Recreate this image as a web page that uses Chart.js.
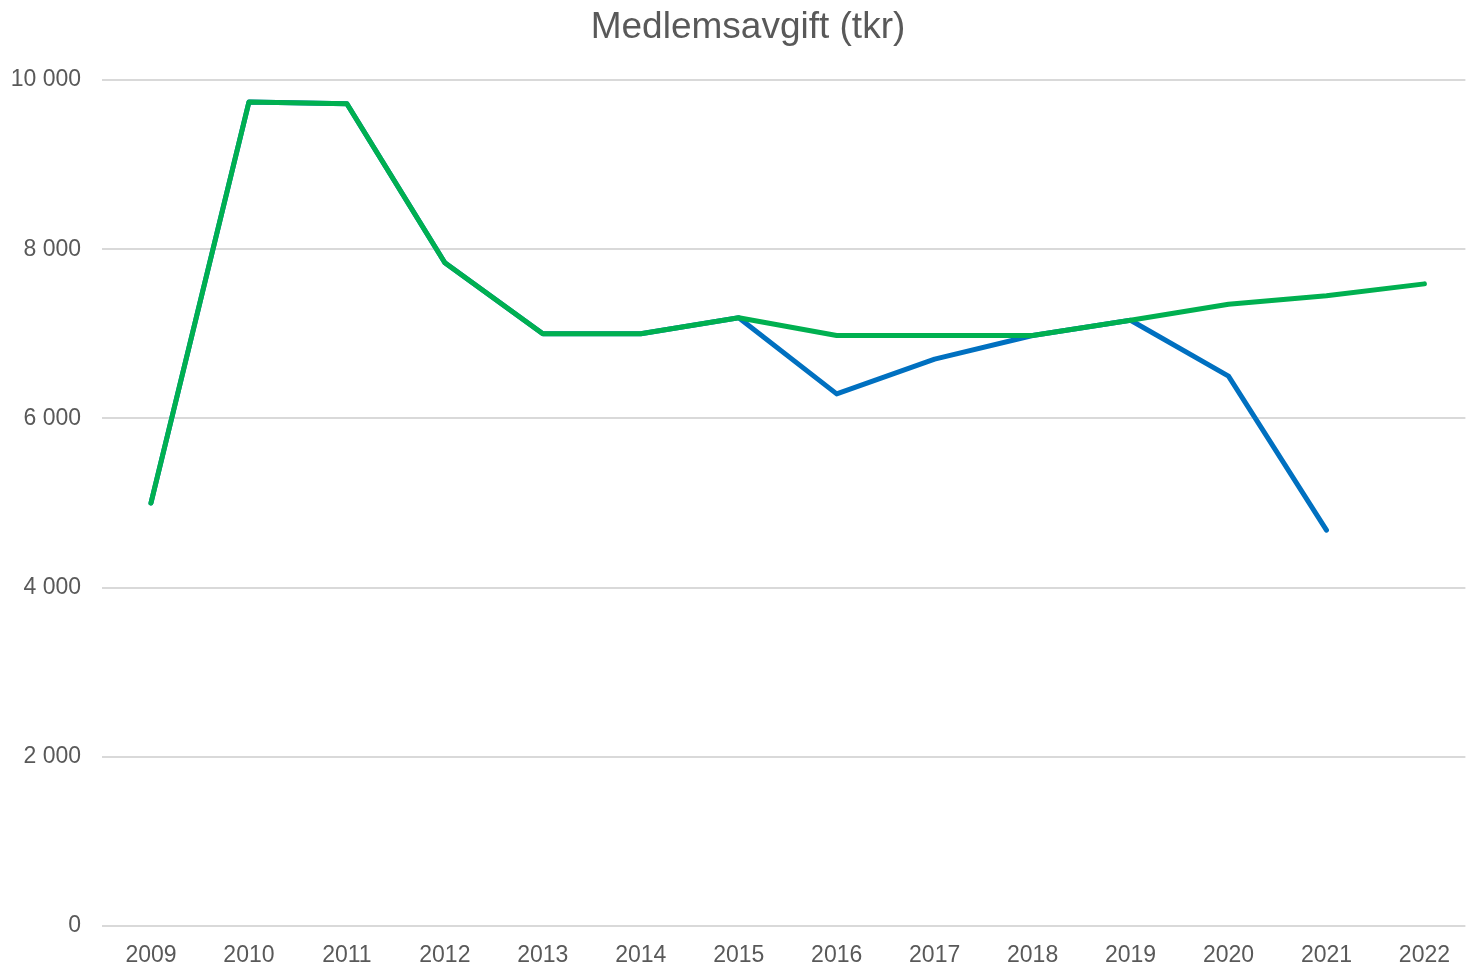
<!DOCTYPE html>
<html>
<head>
<meta charset="utf-8">
<script src="https://cdn.jsdelivr.net/npm/chart.js@4/dist/chart.umd.min.js"></script>
<style>
  html, body { margin: 0; padding: 0; background: #ffffff; }
  #wrap { width: 1466px; height: 966px; position: relative; }
</style>
</head>
<body>
<div id="wrap"><canvas id="c" width="1466" height="966"></canvas></div>
<script>
const years = [2009, 2010, 2011, 2012, 2013, 2014, 2015, 2016, 2017, 2018, 2019, 2020, 2021, 2022];
const seriesGreen = [5000, 9740, 9720, 7840, 7000, 7000, 7190, 6980, 6980, 6980, 7160, 7350, 7450, 7590];
const seriesBlue  = [5000, 9740, 9720, 7840, 7000, 7000, 7190, 6290, 6700, 6980, 7160, 6500, 4680, null];
const yTicks = [0, 2000, 4000, 6000, 8000, 10000];
const titleText = 'Medlemsavgift (tkr)';

const toPoints = arr => years.map((yr, i) => ({ x: yr, y: arr[i] }));
const fmt = v => String(v).replace(/\B(?=(\d{3})+(?!\d))/g, ' ');

const titleShift = {
  id: 'titleShift',
  afterLayout(chart) {
    if (chart.titleBlock) { chart.titleBlock.left = 30; chart.titleBlock.right = 1466; }
  }
};

new Chart(document.getElementById('c'), {
  type: 'line',
  plugins: [titleShift],
  data: {
    datasets: [
      {
        label: 'Grön',
        data: toPoints(seriesGreen),
        borderColor: '#00B050',
        backgroundColor: '#00B050',
        borderWidth: 5,
        pointRadius: 0,
        borderCapStyle: 'round',
        borderJoinStyle: 'round',
        tension: 0,
        spanGaps: false
      },
      {
        label: 'Blå',
        data: toPoints(seriesBlue),
        borderColor: '#0070C0',
        backgroundColor: '#0070C0',
        borderWidth: 5,
        pointRadius: 0,
        borderCapStyle: 'round',
        borderJoinStyle: 'round',
        tension: 0,
        spanGaps: false
      }
    ]
  },
  options: {
    responsive: false,
    animation: false,
    layout: { padding: { left: 0, right: 0, top: 0, bottom: 0 } },
    plugins: {
      legend: { display: false },
      tooltip: { enabled: false },
      title: {
        display: true,
        text: titleText,
        color: '#595959',
        font: { family: '"Liberation Sans", Arial, sans-serif', size: 37, weight: 'normal' },
        padding: { top: 6, bottom: 29.6 }
      }
    },
    scales: {
      x: {
        type: 'linear',
        min: 2008.5,
        max: 2008.5 + 1364 / 98,
        grid: { display: false, drawTicks: false },
        border: { display: false },
        afterBuildTicks: s => { s.ticks = years.map(v => ({ value: v })); },
        afterFit: s => { s.height = 40; },
        ticks: {
          autoSkip: false,
          maxRotation: 0,
          padding: 16,
          color: '#595959',
          font: { family: '"Liberation Sans", Arial, sans-serif', size: 23 },
          callback: v => String(v)
        }
      },
      y: {
        min: 0,
        max: 10000,
        grid: { color: '#d9d9d9', lineWidth: 2, drawTicks: false },
        border: { display: false },
        afterBuildTicks: s => { s.ticks = yTicks.map(v => ({ value: v })); },
        afterFit: s => { s.width = 102; },
        ticks: {
          padding: 21,
          color: '#595959',
          font: { family: '"Liberation Sans", Arial, sans-serif', size: 23 },
          callback: v => fmt(v)
        }
      }
    }
  }
});
</script>
</body>
</html>
